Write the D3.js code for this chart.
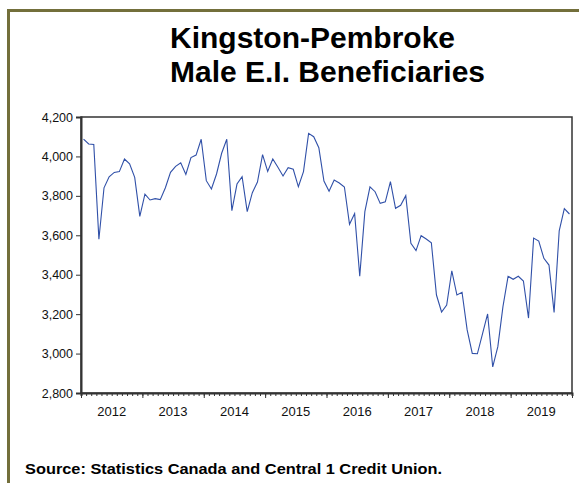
<!DOCTYPE html>
<meta charset="utf-8">
<head>
	<title>Kingston-Pembroke Male E.I. Beneficiaries</title>
</head>

<style>

body{
	margin: 0;
	background-color: #fff;
}

svg{
	display: block;
	font-family: Arial, "Liberation Sans", sans-serif;
}

.axis path, .axis line{
	stroke: #333;
}

.axis text{
	font-size: 12.5px;
	fill: #111;
}

</style>

<body>

<svg class="chart" width="579" height="483"></svg>

<script src="https://cdnjs.cloudflare.com/ajax/libs/d3/7.8.5/d3.min.js"></script>
<script>

// monthly series, 2012M01 - 2019M12
var startYear = 2012;
var years = [2012, 2013, 2014, 2015, 2016, 2017, 2018, 2019];
var yTicks = [2800, 3000, 3200, 3400, 3600, 3800, 4000, 4200];

var values = [
	4088, 4063, 4061, 3580, 3841, 3897, 3919, 3923, 3987, 3962, 3894, 3696, // 2012
	3809, 3779, 3786, 3781, 3841, 3919, 3950, 3968, 3909, 3994, 4007, 4087, // 2013
	3877, 3835, 3911, 4016, 4087, 3725, 3860, 3897, 3720, 3816, 3870, 4009, // 2014
	3924, 3987, 3945, 3901, 3943, 3935, 3846, 3923, 4117, 4100, 4044, 3875, // 2015
	3823, 3880, 3865, 3845, 3656, 3710, 3393, 3720, 3846, 3821, 3762, 3770, // 2016
	3872, 3737, 3752, 3801, 3559, 3522, 3598, 3581, 3562, 3297, 3211, 3246, // 2017
	3420, 3297, 3311, 3120, 3001, 2999, 3100, 3201, 2932, 3035, 3238, 3392, // 2018
	3377, 3392, 3368, 3180, 3586, 3571, 3483, 3449, 3209, 3623, 3735, 3708  // 2019
];

var titleLines = ["Kingston-Pembroke", "Male E.I. Beneficiaries"];
var sourceText = "Source: Statistics Canada and Central 1 Credit Union.";

var svg = d3.select('.chart');

// olive frame (only top and left edges show in the crop)
svg.append('path')
	.attr('d', 'M8.5,483V10.5H579')
	.attr('fill', 'none')
	.attr('stroke', '#736f3b')
	.attr('stroke-width', 3);

// title
svg.append('text')
	.attr('x', 170).attr('y', 48)
	.attr('textLength', 285).attr('lengthAdjust', 'spacingAndGlyphs')
	.style('font-size', '29px').style('font-weight', 'bold')
	.text(titleLines[0]);
svg.append('text')
	.attr('x', 170).attr('y', 82)
	.attr('textLength', 315).attr('lengthAdjust', 'spacingAndGlyphs')
	.style('font-size', '29px').style('font-weight', 'bold')
	.text(titleLines[1]);

var plotLeft = 81, plotRight = 572, plotTop = 117, plotBottom = 393;
var nMonths = years.length * 12;

var x = d3.scaleLinear().domain([0, nMonths]).range([plotLeft, plotRight]);
var y = d3.scaleLinear().domain([2800, 4200]).range([plotBottom, plotTop]);

// plot frame
svg.append('rect')
	.attr('x', plotLeft).attr('y', plotTop)
	.attr('width', plotRight - plotLeft).attr('height', plotBottom - plotTop)
	.attr('fill', 'none')
	.attr('stroke', '#333')
	.attr('stroke-width', 1.5);

// y axis
svg.append('g')
	.attr('class', 'axis')
	.attr('transform', 'translate(' + plotLeft + ',0)')
	.call(d3.axisLeft(y).tickValues(yTicks).tickFormat(d3.format(',')).tickSize(5).tickPadding(3))
	.call(function(g){ g.select('.domain').attr('stroke-width', 2); });

// x axis: minor ticks each month, major at year starts
var minor = d3.range(0, nMonths + 1);
svg.append('g')
	.attr('class', 'axis')
	.attr('transform', 'translate(0,' + plotBottom + ')')
	.call(d3.axisBottom(x).tickValues(minor).tickSize(3).tickFormat(''))
	.call(function(g){ g.select('.domain').attr('stroke-width', 2); });

svg.append('g')
	.attr('class', 'axis')
	.attr('transform', 'translate(0,' + plotBottom + ')')
	.call(d3.axisBottom(x).tickValues(d3.range(0, nMonths + 1, 12)).tickSize(5).tickFormat(''))
	.call(function(g){ g.select('.domain').remove(); });

// year labels centred in each year
svg.append('g')
	.selectAll('text')
	.data(years)
	.enter().append('text')
	.attr('x', function(d){ return x((d - startYear) * 12 + 6); })
	.attr('y', plotBottom + 23)
	.attr('text-anchor', 'middle')
	.style('font-size', '13px')
	.style('fill', '#111')
	.text(function(d){ return d; });

// series line
var line = d3.line()
	.x(function(d, i){ return x(i + 0.5); })
	.y(function(d){ return y(d); });

svg.append('path')
	.datum(values)
	.attr('d', line)
	.attr('fill', 'none')
	.attr('stroke', '#3050a8')
	.attr('stroke-width', 1.1);

// source note
svg.append('text')
	.attr('x', 25).attr('y', 474)
	.attr('textLength', 417).attr('lengthAdjust', 'spacingAndGlyphs')
	.style('font-size', '15px').style('font-weight', 'bold')
	.text(sourceText);

</script>

</body>
</html>
